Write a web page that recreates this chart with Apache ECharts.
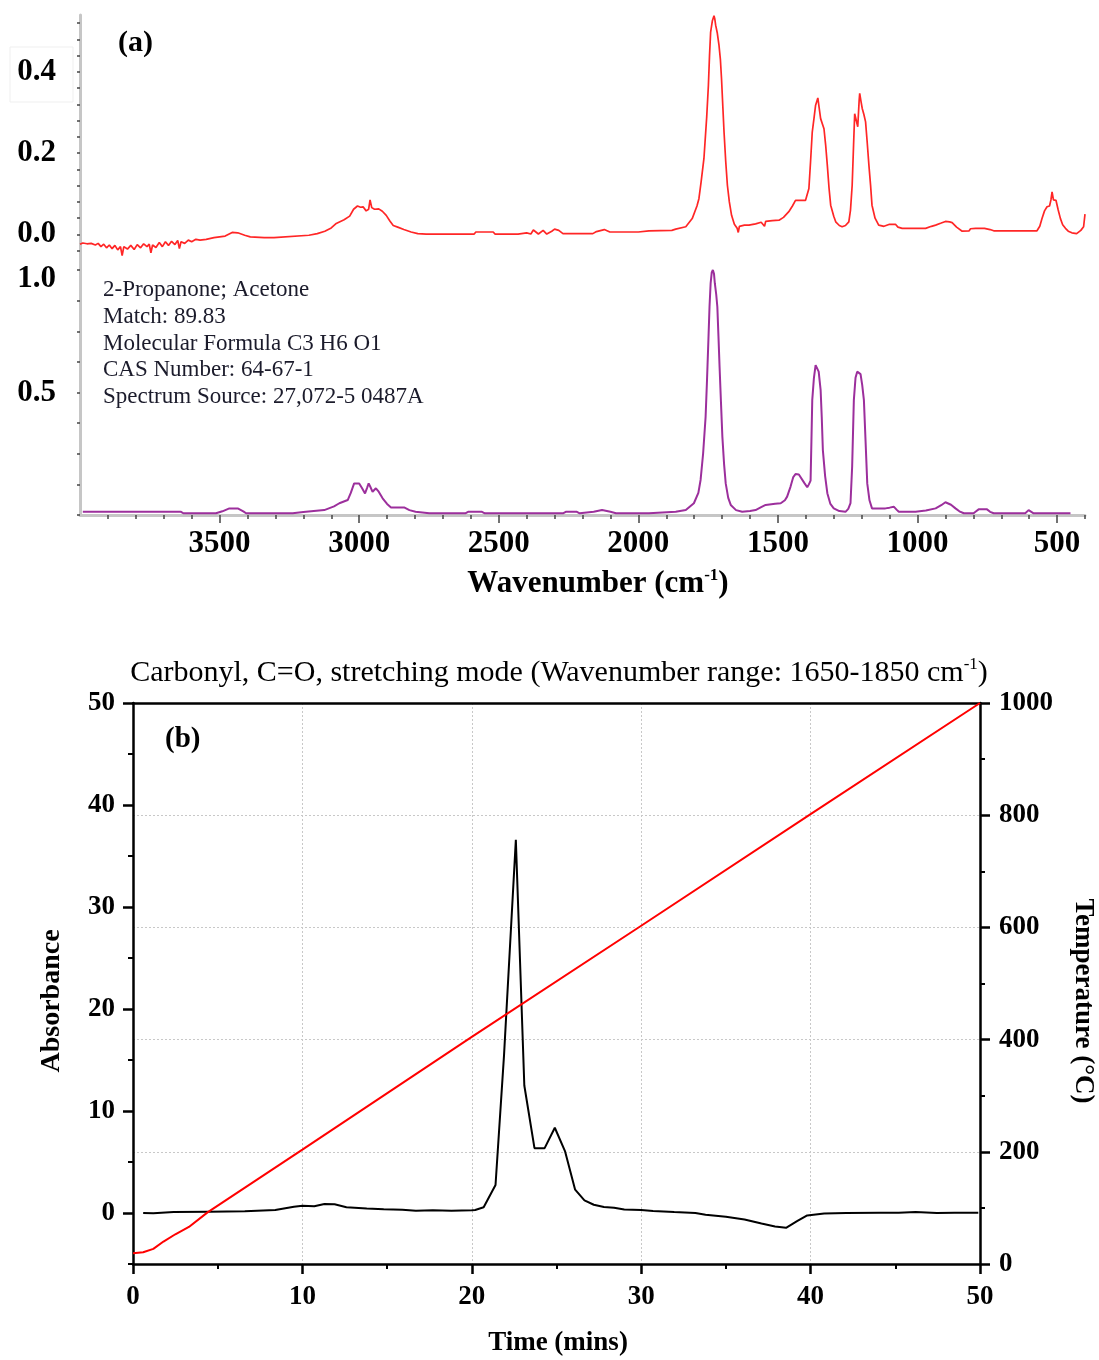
<!DOCTYPE html>
<html>
<head>
<meta charset="utf-8">
<script src="https://cdn.jsdelivr.net/npm/echarts@6/dist/echarts.min.js"></script>
<style>
  html, body { margin: 0; padding: 0; background: #ffffff; }
  #chart { width: 1099px; height: 1360px; }
</style>
</head>
<body>
<div id="chart"></div>
<script>
// ---------- (a) FTIR spectra: [wavenumber cm-1, absorbance] ----------
const sampleSpectrum = [
  [4000,-0.024],[3990,-0.021],[3975,-0.023],[3960,-0.022],[3945,-0.026],[3935,-0.022],[3925,-0.030],[3915,-0.024],
  [3905,-0.033],[3895,-0.026],[3885,-0.035],[3875,-0.027],[3865,-0.038],[3855,-0.030],[3849,-0.052],[3843,-0.030],
  [3830,-0.036],[3818,-0.027],[3806,-0.037],[3795,-0.025],[3783,-0.033],[3772,-0.023],[3760,-0.030],[3752,-0.024],
  [3746,-0.045],[3740,-0.026],[3728,-0.032],[3716,-0.020],[3705,-0.030],[3694,-0.018],[3683,-0.027],[3672,-0.017],
  [3660,-0.025],[3650,-0.015],[3644,-0.035],[3638,-0.018],[3625,-0.022],[3612,-0.014],[3600,-0.018],[3585,-0.012],
  [3570,-0.014],[3548,-0.012],[3520,-0.008],[3480,-0.004],[3455,0.005],[3435,0.004],[3410,-0.002],[3390,-0.006],
  [3340,-0.008],[3305,-0.008],[3300,-0.004],[3180,-0.002],[3150,0.002],[3123,0.008],[3100,0.016],[3082,0.027],
  [3054,0.036],[3034,0.045],[3020,0.062],[3006,0.070],[2995,0.067],[2986,0.068],[2975,0.058],[2966,0.062],
  [2961,0.085],[2955,0.066],[2945,0.062],[2930,0.063],[2917,0.057],[2903,0.047],[2890,0.033],[2878,0.022],
  [2862,0.018],[2840,0.012],[2814,0.006],[2790,0.002],[2760,0.001],[2588,0.001],[2582,0.006],[2520,0.006],
  [2513,0.001],[2431,0.001],[2424,0.005],[2400,0.004],[2385,0.001],[2376,0.011],[2358,0.001],[2341,0.010],
  [2328,0.001],[2310,0.008],[2300,0.013],[2285,0.010],[2270,0.002],[2163,0.002],[2150,0.007],[2122,0.012],
  [2102,0.006],[2000,0.006],[1962,0.009],[1880,0.010],[1866,0.013],[1830,0.019],[1807,0.039],[1790,0.070],
  [1783,0.088],[1775,0.130],[1765,0.187],[1755,0.290],[1749,0.367],[1745,0.440],[1741,0.498],[1735,0.525],
  [1729,0.538],[1726,0.530],[1723,0.515],[1717,0.495],[1711,0.465],[1706,0.430],[1702,0.383],[1697,0.310],
  [1693,0.252],[1687,0.180],[1681,0.121],[1674,0.080],[1666,0.047],[1656,0.025],[1646,0.015],[1642,0.005],
  [1638,0.020],[1620,0.023],[1604,0.023],[1580,0.026],[1560,0.030],[1548,0.020],[1544,0.032],[1520,0.034],
  [1496,0.035],[1480,0.042],[1461,0.056],[1448,0.070],[1437,0.084],[1401,0.084],[1389,0.113],[1383,0.180],
  [1377,0.252],[1370,0.290],[1365,0.318],[1357,0.336],[1352,0.310],[1347,0.285],[1335,0.260],[1329,0.220],
  [1323,0.170],[1317,0.115],[1311,0.072],[1300,0.045],[1293,0.031],[1280,0.022],[1270,0.019],[1258,0.022],
  [1246,0.031],[1240,0.060],[1234,0.121],[1229,0.220],[1225,0.297],[1218,0.297],[1214,0.265],[1212,0.265],
  [1209,0.330],[1207,0.347],[1203,0.330],[1198,0.310],[1192,0.295],[1186,0.277],[1180,0.225],[1174,0.170],
  [1168,0.120],[1163,0.072],[1152,0.040],[1139,0.023],[1120,0.020],[1100,0.025],[1079,0.025],[1070,0.018],
  [1055,0.015],[971,0.015],[950,0.020],[935,0.023],[915,0.028],[900,0.032],[885,0.031],[876,0.029],
  [860,0.018],[840,0.008],[815,0.009],[810,0.014],[792,0.015],[760,0.015],[740,0.012],[727,0.009],
  [650,0.009],[645,0.013],[640,0.009],[572,0.009],[562,0.020],[554,0.039],[545,0.058],[536,0.068],
  [527,0.070],[522,0.085],[518,0.105],[513,0.085],[509,0.088],[504,0.084],[496,0.060],[488,0.039],
  [480,0.024],[470,0.015],[460,0.008],[447,0.004],[440,0.007],[430,0.002],[423,0.006],[415,0.010],
  [410,0.006],[405,0.019],[400,0.050]
];

const acetoneReference = [
  [3990,0.013],[3638,0.013],[3630,0.007],[3513,0.007],[3490,0.015],[3465,0.027],[3435,0.027],[3415,0.015],
  [3405,0.007],[3238,0.007],[3200,0.012],[3125,0.020],[3090,0.035],[3071,0.048],[3041,0.061],[3030,0.090],
  [3018,0.129],[3000,0.129],[2990,0.110],[2979,0.088],[2972,0.110],[2966,0.129],[2958,0.110],[2952,0.095],
  [2940,0.109],[2930,0.095],[2916,0.068],[2900,0.045],[2886,0.031],[2839,0.031],[2820,0.020],[2798,0.013],
  [2749,0.007],[2620,0.007],[2610,0.013],[2560,0.013],[2550,0.007],[2270,0.007],[2260,0.013],[2220,0.013],
  [2210,0.007],[2160,0.013],[2130,0.020],[2100,0.013],[2080,0.007],[1962,0.007],[1866,0.013],[1830,0.020],
  [1801,0.048],[1785,0.090],[1777,0.143],[1768,0.250],[1759,0.401],[1754,0.550],[1749,0.714],[1745,0.850],
  [1741,0.946],[1737,0.990],[1733,1.000],[1729,0.985],[1726,0.946],[1721,0.900],[1717,0.850],[1713,0.730],
  [1709,0.605],[1704,0.460],[1699,0.320],[1693,0.210],[1687,0.129],[1678,0.070],[1669,0.041],[1650,0.020],
  [1628,0.013],[1600,0.016],[1580,0.020],[1560,0.032],[1544,0.041],[1510,0.046],[1490,0.048],[1475,0.060],
  [1467,0.075],[1455,0.115],[1445,0.155],[1437,0.167],[1425,0.165],[1419,0.160],[1405,0.130],[1395,0.113],
  [1389,0.125],[1383,0.140],[1380,0.300],[1377,0.469],[1371,0.560],[1365,0.612],[1360,0.615],[1354,0.585],
  [1347,0.510],[1343,0.400],[1339,0.265],[1331,0.160],[1323,0.089],[1312,0.045],[1300,0.027],[1280,0.016],
  [1258,0.013],[1248,0.025],[1240,0.048],[1234,0.200],[1228,0.469],[1222,0.560],[1216,0.585],[1210,0.585],
  [1204,0.575],[1198,0.530],[1192,0.469],[1186,0.300],[1180,0.129],[1172,0.060],[1163,0.027],[1115,0.027],
  [1100,0.030],[1085,0.034],[1075,0.022],[1067,0.013],[1007,0.013],[970,0.018],[935,0.027],[915,0.040],
  [900,0.052],[894,0.054],[880,0.042],[864,0.027],[850,0.015],[834,0.007],[799,0.007],[790,0.015],
  [781,0.023],[751,0.023],[740,0.013],[727,0.007],[614,0.007],[607,0.014],[602,0.020],[595,0.014],
  [584,0.007],[452,0.007]
];

const wavenumberLabels = [3500, 3000, 2500, 2000, 1500, 1000, 500];
const wavenumberMinorTicks = [3900,3800,3700,3600,3400,3300,3200,3100,2900,2800,2700,2600,2400,2300,2200,2100,
  1900,1800,1700,1600,1400,1300,1200,1100,900,800,700,600,400];
const sampleAbsLabels = [0, 0.2, 0.4];
const sampleAbsTicks = [-0.04,0,0.04,0.08,0.12,0.16,0.2,0.24,0.28,0.32,0.36,0.4,0.44,0.48,0.52];
const refAbsLabels = [0.5, 1.0];
const refAbsTicks = [0,0.125,0.25,0.375,0.5,0.625,0.75,0.875,1.0];

const matchInfo = [
  '2-Propanone; Acetone',
  'Match: 89.83',
  'Molecular Formula C3 H6 O1',
  'CAS Number: 64-67-1',
  'Spectrum Source: 27,072-5 0487A'
];

// ---------- (b) carbonyl band absorbance and temperature vs time ----------
const timeMins = [0.6,1.2,2.4,4.5,6.6,8.4,9.5,10.0,10.7,11.3,11.9,12.6,13.8,14.8,15.9,16.7,17.7,18.8,20.0,20.2,
  20.7,21.4,21.9,22.6,23.1,23.7,24.3,24.9,25.5,26.1,26.65,27.2,27.8,28.4,29.0,30.0,30.7,31.95,33.2,33.8,
  35.0,36.1,37.1,37.9,38.55,39.2,39.8,40.8,42.1,44.1,45.2,46.2,47.45,48.5,49.9];
const carbonylAbs = [0,-0.03,0.1,0.13,0.16,0.3,0.62,0.72,0.66,0.89,0.85,0.56,0.43,0.36,0.33,0.23,0.26,0.23,0.26,0.3,
  0.56,2.75,15.4,36.6,12.5,6.36,6.36,8.36,6.07,2.29,1.24,0.81,0.58,0.52,0.35,0.29,0.19,0.09,0,-0.17,
  -0.37,-0.63,-1.03,-1.32,-1.45,-0.8,-0.24,-0.04,0,0.02,0.02,0.09,0,0.02,0.02];
const tempTime = [0, 0.6, 1.2, 1.8, 2.5, 3.3, 4.4, 10, 20, 30, 40, 50];
const temperatureC = [19, 21, 27, 40, 53, 66, 92, 204, 405, 603, 802, 1000];

const absLabels = [0, 10, 20, 30, 40, 50];
const absMinorTicks = [-5, 5, 15, 25, 35, 45];

// ---------- helpers ----------
const SERIF = '"Liberation Serif", "Times New Roman", serif';
const zip = (xs, ys) => xs.map((x, i) => [x, ys[i]]);
const plain = v => String(v);

const chart = echarts.init(document.getElementById('chart'), null, { renderer: 'canvas' });

const specLabel = { fontFamily: SERIF, fontWeight: 'bold', fontSize: 31, color: '#000' };
const panelBLabel = { fontFamily: SERIF, fontWeight: 'bold', fontSize: 27, color: '#000', formatter: plain };
const grayAxisLine = { show: true, onZero: false, lineStyle: { color: '#c6c6c6', width: 3 } };
const dottedGrid = { show: true, lineStyle: { color: '#c8c8c8', width: 1, type: [2, 2] } };

const option = {
  animation: false,
  backgroundColor: '#ffffff',
  grid: [
    { left: 80, top: 15, width: 1005, height: 255 },
    { left: 80, top: 270, width: 1005, height: 245 },
    { left: 133, top: 703, width: 847, height: 561 }
  ],
  xAxis: [
    { gridIndex: 0, type: 'value', inverse: true, min: 400, max: 4000, show: false },
    {
      gridIndex: 1, type: 'value', inverse: true, min: 400, max: 4000, position: 'bottom',
      axisLine: grayAxisLine,
      axisTick: { show: true, length: 8, customValues: wavenumberLabels, lineStyle: { color: '#444', width: 1.5 } },
      axisLabel: Object.assign({ customValues: wavenumberLabels, margin: 13, formatter: plain }, specLabel),
      splitLine: { show: false }
    },
    {
      gridIndex: 1, type: 'value', inverse: true, min: 400, max: 4000, position: 'bottom',
      axisLine: { show: false, onZero: false },
      axisTick: { show: true, length: 4, customValues: wavenumberMinorTicks, lineStyle: { color: '#444', width: 1.5 } },
      axisLabel: { show: false },
      splitLine: { show: false }
    },
    {
      gridIndex: 2, type: 'value', min: 0, max: 50, interval: 10, position: 'bottom',
      axisLine: { show: true, onZero: false, lineStyle: { color: '#000', width: 2.5 } },
      axisTick: { show: true, length: 10, lineStyle: { color: '#000', width: 2.5 } },
      minorTick: { show: true, splitNumber: 2, length: 5, lineStyle: { color: '#000', width: 2 } },
      axisLabel: Object.assign({ margin: 20 }, panelBLabel),
      splitLine: dottedGrid
    },
    {
      // plain frame line along the top edge of panel (b)
      gridIndex: 2, type: 'value', min: 0, max: 50, position: 'top',
      axisLine: { show: true, onZero: false, lineStyle: { color: '#000', width: 2.5 } },
      axisTick: { show: false }, axisLabel: { show: false }, splitLine: { show: false }
    }
  ],
  yAxis: [
    {
      gridIndex: 0, type: 'value', min: -0.0875, max: 0.54,
      axisLine: grayAxisLine,
      axisTick: { show: true, length: 3, customValues: sampleAbsTicks, lineStyle: { color: '#444', width: 1.5 } },
      axisLabel: Object.assign({ customValues: sampleAbsLabels, margin: 24, formatter: v => v.toFixed(1) }, specLabel),
      splitLine: { show: false }
    },
    {
      gridIndex: 1, type: 'value', min: 0, max: 1,
      axisLine: grayAxisLine,
      axisTick: { show: true, length: 3, customValues: refAbsTicks, lineStyle: { color: '#444', width: 1.5 } },
      axisLabel: Object.assign({
        customValues: refAbsLabels, margin: 24,
        formatter: v => (v === 1 ? '{low|1.0}' : v.toFixed(1)),
        rich: { low: { fontFamily: SERIF, fontWeight: 'bold', fontSize: 31, color: '#000', padding: [18, 0, 0, 0] } }
      }, specLabel),
      splitLine: { show: false }
    },
    {
      gridIndex: 2, type: 'value', min: -5, max: 50, position: 'left',
      axisLine: { show: true, onZero: false, lineStyle: { color: '#000', width: 2.5 } },
      axisTick: { show: true, length: 10, customValues: absLabels, lineStyle: { color: '#000', width: 2.5 } },
      axisLabel: Object.assign({ customValues: absLabels, margin: 18 }, panelBLabel),
      splitLine: { show: false }
    },
    {
      gridIndex: 2, type: 'value', min: -5, max: 50, position: 'left',
      axisLine: { show: false, onZero: false },
      axisTick: { show: true, length: 5, customValues: absMinorTicks, lineStyle: { color: '#000', width: 2 } },
      axisLabel: { show: false },
      splitLine: { show: false }
    },
    {
      gridIndex: 2, type: 'value', min: 0, max: 1000, interval: 200, position: 'right',
      axisLine: { show: true, onZero: false, lineStyle: { color: '#000', width: 2.5 } },
      axisTick: { show: true, length: 10, lineStyle: { color: '#000', width: 2.5 } },
      minorTick: { show: true, splitNumber: 2, length: 5, lineStyle: { color: '#000', width: 2 } },
      axisLabel: Object.assign({ margin: 19 }, panelBLabel),
      splitLine: dottedGrid
    }
  ],
  series: [
    {
      name: 'Sample', type: 'line', xAxisIndex: 0, yAxisIndex: 0, data: sampleSpectrum,
      showSymbol: false, clip: false, lineStyle: { color: '#ff2626', width: 1.7 }, z: 3
    },
    {
      name: 'Acetone', type: 'line', xAxisIndex: 1, yAxisIndex: 1, data: acetoneReference,
      showSymbol: false, clip: false, lineStyle: { color: '#9c2f9c', width: 2 }, z: 3
    },
    {
      name: 'Absorbance', type: 'line', xAxisIndex: 3, yAxisIndex: 2, data: zip(timeMins, carbonylAbs),
      showSymbol: false, clip: false, lineStyle: { color: '#000', width: 2 }, z: 3
    },
    {
      name: 'Temperature', type: 'line', xAxisIndex: 3, yAxisIndex: 4, data: zip(tempTime, temperatureC),
      showSymbol: false, clip: false, lineStyle: { color: '#ff0000', width: 2 }, z: 4
    }
  ],
  graphic: [
    // faint frame around the upper tick label
    { type: 'rect', shape: { x: 10, y: 47, width: 63, height: 55 }, style: { fill: 'none', stroke: '#efefef', lineWidth: 1 }, silent: true },
    { type: 'text', x: 118, y: 43, style: { text: '(a)', font: 'bold 30px ' + SERIF, fill: '#000', align: 'left', verticalAlign: 'middle' } },
    ...matchInfo.map((t, i) => ({
      type: 'text', x: 103, y: 290 + i * 26.8,
      style: { text: t, font: '23px ' + SERIF, fill: '#1b1b2b', align: 'left', verticalAlign: 'middle' }
    })),
    {
      type: 'text', x: 598, y: 584,
      style: {
        text: '{n|Wavenumber (cm}{s|-1}{n|)}', align: 'center', verticalAlign: 'middle',
        rich: {
          n: { font: 'bold 31px ' + SERIF, fill: '#000', lineHeight: 34 },
          s: { font: 'bold 17px ' + SERIF, fill: '#000', lineHeight: 20, verticalAlign: 'top' }
        }
      }
    },
    {
      type: 'text', x: 559, y: 673,
      style: {
        text: '{n|Carbonyl, C=O, stretching mode (Wavenumber range: 1650-1850 cm}{s|-1}{n|)}',
        align: 'center', verticalAlign: 'middle',
        rich: {
          n: { font: '30px ' + SERIF, fill: '#000', lineHeight: 34 },
          s: { font: '17px ' + SERIF, fill: '#000', lineHeight: 17, verticalAlign: 'top' }
        }
      }
    },
    { type: 'text', x: 165, y: 740, style: { text: '(b)', font: 'bold 29px ' + SERIF, fill: '#000', align: 'left', verticalAlign: 'middle' } },
    { type: 'text', x: 52, y: 1001, rotation: Math.PI / 2, style: { text: 'Absorbance', font: 'bold 28px ' + SERIF, fill: '#000', align: 'center', verticalAlign: 'middle' } },
    { type: 'text', x: 1083, y: 1001, rotation: -Math.PI / 2, style: { text: 'Temperature (°C)', font: 'bold 27px ' + SERIF, fill: '#000', align: 'center', verticalAlign: 'middle' } },
    { type: 'text', x: 558, y: 1343, style: { text: 'Time (mins)', font: 'bold 27px ' + SERIF, fill: '#000', align: 'center', verticalAlign: 'middle' } }
  ]
};

chart.setOption(option);
</script>
</body>
</html>
